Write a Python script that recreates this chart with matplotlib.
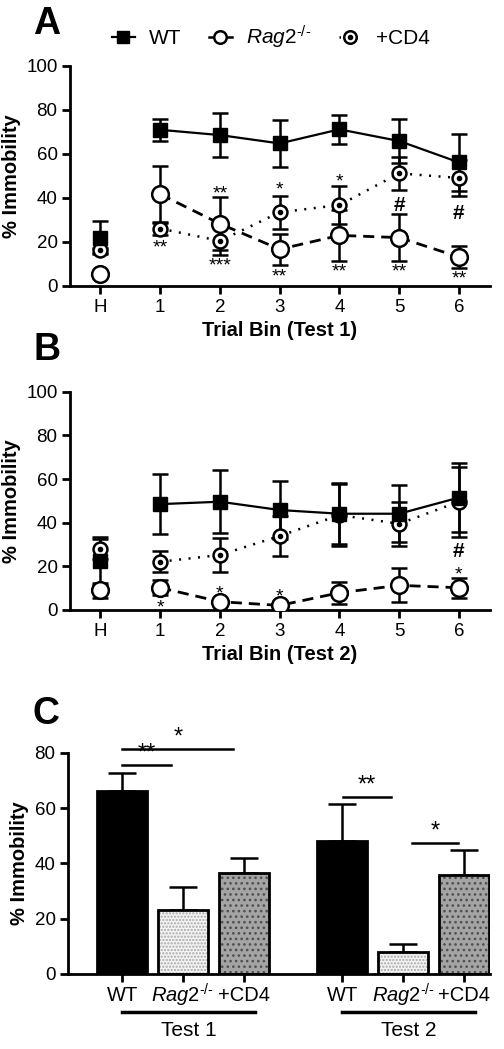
import matplotlib
matplotlib.use('Agg')
import matplotlib.pyplot as plt
from matplotlib.lines import Line2D
import numpy as np

plt.rcParams['font.family'] = ['Liberation Sans', 'DejaVu Sans']
plt.rcParams['mathtext.fontset'] = 'custom'
plt.rcParams['mathtext.rm'] = 'Liberation Sans'
plt.rcParams['mathtext.it'] = 'Liberation Sans:italic'
plt.rcParams['mathtext.bf'] = 'Liberation Sans:bold'
plt.rcParams['hatch.linewidth'] = 1.1

# ---------------- data ----------------
bins = ['H', '1', '2', '3', '4', '5', '6']

a_wt = [22, 71, 68.6, 64.8, 71.2, 65.9, 56.2]
a_wt_err = [7.4, 5, 10, 10.5, 6.5, 10, 13]
a_rag = [5.3, 41.7, 28.3, 16.7, 23, 22, 13.2]
a_rag_err = [0, 13, 12, 7, 11.5, 10.7, 5.1]
a_cd4 = [16.2, 26.1, 20.5, 33.5, 36.8, 51.2, 49.1]
a_cd4_err = [1, 3, 6.4, 7.4, 8.6, 7.4, 8]

b_wt = [22.4, 48.5, 49.6, 45.8, 44.1, 44.1, 51.5]
b_wt_err = [11, 13.7, 14.4, 13.4, 14, 13, 15.7]
b_rag = [9.0, 10.2, 3.8, 2.1, 7.9, 11.3, 10.2]
b_rag_err = [3.5, 3.5, 1, 1, 5, 7.8, 4.6]
b_cd4 = [27.8, 22.1, 25.2, 33.9, 43.5, 39.5, 49.6]
b_cd4_err = [4.5, 4.8, 7.7, 9.2, 14, 10, 16]

# significance marks: (bin index, y value, text)
a_marks = [(1, 17.5, '**'), (2, 42, '**'), (2, 9, '***'), (3, 43.5, '*'), (3, 4, '**'),
           (4, 47.5, '*'), (4, 6.5, '**'), (5, 36.5, '#'), (5, 6.5, '**'),
           (6, 33, '#'), (6, 3, '**')]
b_marks = [(1, 1, '*'), (2, 7.5, '*'), (3, 6, '*'), (6, 27, '#'), (6, 16, '*')]

RAG = r'$\mathit{Rag2}^{\mathit{‐/‐}}$'
c_labels = ['WT', RAG, '+CD4']
c_test1 = [66.3, 23.1, 36.4]
c_test1_err = [6.2, 8.5, 5.6]
c_test2 = [48.1, 8.1, 35.8]
c_test2_err = [13.2, 2.7, 9.0]

# ---------------- figure ----------------
W, H = 504, 1049
fig = plt.figure(figsize=(W / 100, H / 100), dpi=100)


def px_axes(left, top, right, bottom):
    return fig.add_axes([left / W, 1 - bottom / H, (right - left) / W, (bottom - top) / H])


def style_axes(ax):
    for s in ['top', 'right']:
        ax.spines[s].set_visible(False)
    for s in ['left', 'bottom']:
        ax.spines[s].set_linewidth(2)
    ax.tick_params(width=2, length=6, labelsize=13.5, direction='out', pad=3)


def line_panel(ax, wt, wt_err, rag, rag_err, cd4, cd4_err, marks, xlabel):
    x = np.arange(len(bins))
    ekw = dict(fmt='none', ecolor='black', elinewidth=1.8, capsize=6, capthick=1.8)
    ax.errorbar(x, rag, yerr=rag_err, zorder=2, **ekw)
    ax.errorbar(x, cd4, yerr=cd4_err, zorder=2, **ekw)
    ax.errorbar(x, wt, yerr=wt_err, zorder=2, **ekw)
    ax.plot(x[1:], rag[1:], color='black', lw=2, ls=(0, (4, 2.5)), zorder=3)
    ax.plot(x[1:], cd4[1:], color='black', lw=1.8, ls=(0, (0.8, 3)), zorder=3)
    ax.plot(x[1:], wt[1:], color='black', lw=1.6, zorder=3)
    ax.plot(x, rag, ls='none', marker='o', ms=12, mfc='white', mec='black', mew=1.8, zorder=4)
    ax.plot(x, cd4, ls='none', marker='o', ms=10, mfc='white', mec='black', mew=1.8, zorder=4)
    ax.plot(x, cd4, ls='none', marker='o', ms=3, mfc='black', mec='black', zorder=5)
    ax.plot(x, wt, ls='none', marker='s', ms=9.5, mfc='black', mec='black', zorder=6)
    for xi, yv, t in marks:
        if t == '#':
            ax.text(xi, yv, t, ha='center', va='center', fontsize=15, fontweight='bold', zorder=7)
        else:
            ax.text(xi, yv, t, ha='center', va='center', fontsize=14, zorder=7)
    ax.set_xlim(-0.51, 6.52)
    ax.set_ylim(0, 100)
    ax.set_xticks(x)
    ax.set_xticklabels(bins)
    ax.set_yticks([0, 20, 40, 60, 80, 100])
    ax.set_ylabel('% Immobility', fontsize=14.5, fontweight='bold', labelpad=4)
    ax.set_xlabel(xlabel, fontsize=14.5, fontweight='bold', labelpad=4)
    style_axes(ax)


axA = px_axes(70, 66, 490, 286)
line_panel(axA, a_wt, a_wt_err, a_rag, a_rag_err, a_cd4, a_cd4_err, a_marks, 'Trial Bin (Test 1)')
axB = px_axes(70, 391.7, 490, 610)
line_panel(axB, b_wt, b_wt_err, b_rag, b_rag_err, b_cd4, b_cd4_err, b_marks, 'Trial Bin (Test 2)')

# legend
h_wt = Line2D([], [], color='black', lw=1.6, marker='s', ms=9, mfc='black')
h_rag = Line2D([], [], color='black', lw=1.8, marker='o', ms=9, mfc='white', mew=1.8)
h_cd4a = Line2D([], [], color='black', lw=1.8, ls=(0, (0.6, 6)), marker='o', ms=9, mfc='white', mew=1.8)
h_cd4b = Line2D([], [], ls='none', marker='o', ms=3, color='black')
fig.legend([h_wt, h_rag, (h_cd4a, h_cd4b)], ['WT', RAG, '+CD4'],
           loc='center', bbox_to_anchor=(271 / W, 1 - 37 / H), ncol=3, frameon=False,
           fontsize=15, handlelength=1.1, handletextpad=0.7, columnspacing=1.3)

# panel C
axC = px_axes(68, 752.7, 490, 974)
xs1 = np.array([0, 1, 2])
xs2 = xs1 + 3.62
faces = ['black', '#f4f4f4', '#a4a4a4']
hatch_cols = ['black', '#a8a8a8', '#505050']
hatches = [None, '.....', '...']
for xs, vals, errs in [(xs1, c_test1, c_test1_err), (xs2, c_test2, c_test2_err)]:
    for i in range(3):
        axC.bar(xs[i], vals[i], width=0.82, color=faces[i], edgecolor=hatch_cols[i],
                hatch=hatches[i], linewidth=0, zorder=2)
        axC.bar(xs[i], vals[i], width=0.82, facecolor='none', edgecolor='black',
                linewidth=2, zorder=3)
        axC.errorbar(xs[i], vals[i], yerr=[[0], [errs[i]]], fmt='none', ecolor='black',
                     elinewidth=1.8, capsize=10, capthick=1.8, zorder=1)
axC.set_xlim(-0.89, 6.05)
axC.set_ylim(0, 80)
axC.set_yticks([0, 20, 40, 60, 80])
axC.set_xticks(np.concatenate([xs1, xs2]))
axC.set_xticklabels([])
style_axes(axC)
axC.set_ylabel('% Immobility', fontsize=14.5, fontweight='bold', labelpad=4)

for xs in (xs1, xs2):
    for i in range(3):
        axC.text(xs[i], -7.6, c_labels[i], ha='center', va='center', fontsize=14.5, clip_on=False)
for xs, name in [(xs1, 'Test 1'), (xs2, 'Test 2')]:
    axC.plot([xs[0], xs[2] + 0.18], [-13.7, -13.7], color='black', lw=2.5, clip_on=False)
    axC.text((xs[0] + xs[2] + 0.18) / 2, -20.6, name, ha='center', va='center', fontsize=15, clip_on=False)

brackets = [(0, 1.83, 81.3, '*'), (0, 0.81, 75.4, '**'), (3.63, 4.42, 64, '**'), (4.77, 5.52, 47.4, '*')]
for x0, x1, yv, t in brackets:
    axC.plot([x0, x1], [yv, yv], color='black', lw=1.8, clip_on=False)
    axC.text((x0 + x1) / 2, yv + 0.3, t, ha='center', va='bottom', fontsize=17, clip_on=False)

for letter, xp, yp in [('A', 33, 24), ('B', 33, 350), ('C', 32, 714)]:
    fig.text(xp / W, 1 - yp / H, letter, fontsize=27, fontweight='bold', ha='left', va='center')

fig.savefig('out.png', dpi=100)
